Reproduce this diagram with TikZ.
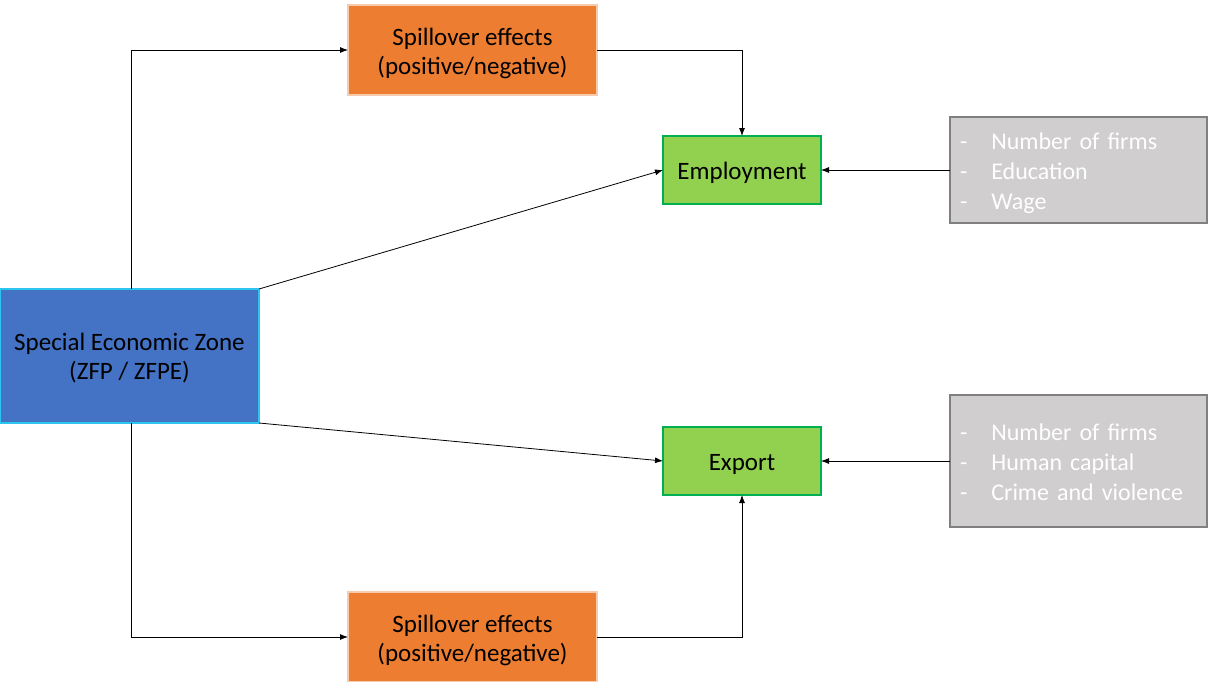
\documentclass[tikz,border=0pt]{standalone}
\usepackage{fontspec}
\setmainfont{Carlito}
\usetikzlibrary{arrows.meta}

\definecolor{zoneblue}{HTML}{4472C4}
\definecolor{zoneedge}{HTML}{2EC4F0}
\definecolor{spillorange}{HTML}{ED7D31}
\definecolor{spilledge}{HTML}{F8CBAD}
\definecolor{outgreen}{HTML}{92D050}
\definecolor{outedge}{HTML}{00B050}
\definecolor{ctrlgray}{HTML}{D0CECE}
\definecolor{ctrledge}{HTML}{808080}

\tikzset{
    box/.style = {anchor=north west, inner sep=0pt, outer sep=0pt, align=center,
                  font=\fontsize{25}{29}\selectfont},
    zonebox/.style = {box, draw=zoneedge, line width=1.5pt, fill=zoneblue,
                      minimum width=259pt, minimum height=134pt,
                      text height=52pt, text depth=6pt},
    spillbox/.style = {box, draw=spilledge, line width=1.5pt, fill=spillorange,
                       minimum width=249pt, minimum height=90pt,
                       text height=54pt, text depth=6pt},
    outbox/.style = {box, draw=outedge, line width=1.5pt, fill=outgreen,
                     minimum width=158pt, minimum height=68pt,
                     text height=22pt, text depth=4pt},
    ctrlbox/.style = {box, draw=ctrledge, line width=1.5pt, fill=ctrlgray,
                      text width=257pt, text=white, align=left,
                      text height=53pt, text depth=34pt,
                      font=\fontsize{24}{30}\selectfont},
    link/.style = {line width=0.8pt, -{Latex[length=8pt,width=6pt]}}
}

\begin{document}
\begin{tikzpicture}[x=1pt, y=-1pt]
    \useasboundingbox (0,0) rectangle (1212,681);

    % boxes (pixel coordinates, y downwards)
    \node[zonebox] (zone) at (0,289) {Special Economic Zone\\(ZFP / ZFPE)};
    \node[spillbox] (spilltop) at (348,5) {Spillover effects\\(positive/negative)};
    \node[spillbox] (spillbot) at (348,592) {Spillover effects\\(positive/negative)};
    \node[outbox] (employ) at (663,136) {Employment};
    \node[outbox] (export) at (663,427) {Export};

    \node[ctrlbox, minimum height=106pt] (ctrltop) at (950,117)
        {\begin{tabular}{@{\hspace{10pt}}l@{\hspace{24pt}}l@{}}
         - & Number of firms\\ - & Education\\ - & Wage
         \end{tabular}};
    \node[ctrlbox, minimum height=132pt] (ctrlbot) at (950,395)
        {\begin{tabular}{@{\hspace{10pt}}l@{\hspace{24pt}}l@{}}
         - & Number of firms\\ - & Human capital\\ - & Crime and violence
         \end{tabular}};

    % connectors
    \draw[link] ([xshift=2pt]zone.north) |- (spilltop.west);
    \draw[link] (spilltop.east) -| (employ.north);
    \draw[link] (zone.north east) -- (employ.west);
    \draw[link] (ctrltop.west) -- (employ.east);

    \draw[link] ([xshift=2pt]zone.south) |- (spillbot.west);
    \draw[link] (spillbot.east) -| (export.south);
    \draw[link] (zone.south east) -- (export.west);
    \draw[link] (ctrlbot.west) -- (export.east);
\end{tikzpicture}
\end{document}
